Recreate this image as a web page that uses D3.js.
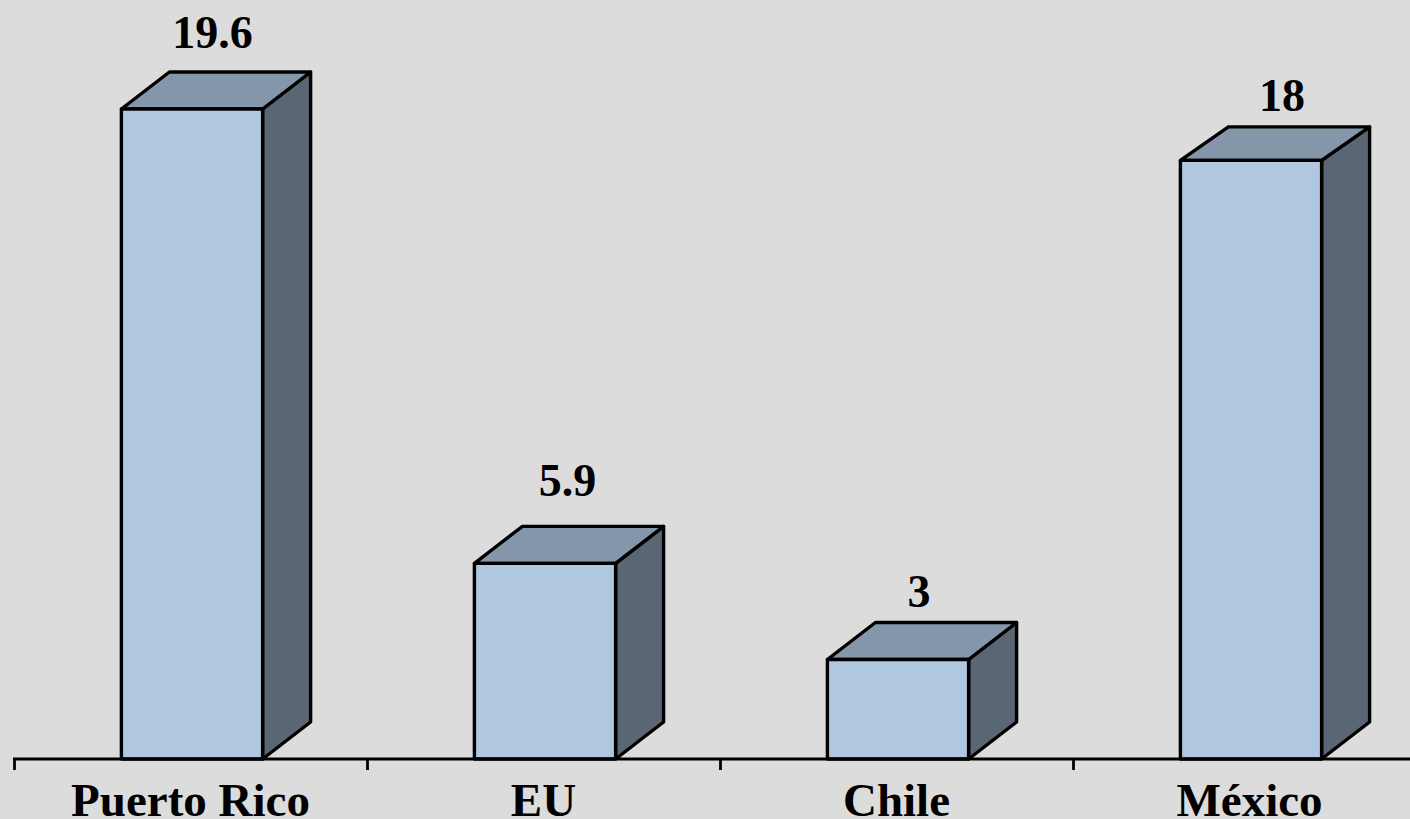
<!doctype html>
<html lang="es">
<head>
  <meta charset="utf-8">
  <script src="https://d3js.org/d3.v7.min.js"></script>
  <style>
    html, body { margin: 0; padding: 0; background: #dcdcdc; overflow: hidden; }
    svg { display: block; }
    text { font-family: "Liberation Serif", serif; font-weight: bold; fill: #000; }
  </style>
</head>
<body>
<div id="chart"></div>
<script>
var categories = ["Puerto Rico", "EU", "Chile", "México"];
var values = [19.6, 5.9, 3, 18.05];
var labels = ["19.6", "5.9", "3", "18"];

var width = 1410, height = 819,
    baseY = 759,
    depthX = 48, depthY = 37;

// hand placed value labels, offset from the bar's front top centre
var labelDx = [20.5, 22.5, 21, 31],
    labelDy = [61, 67, 53, 49];
// the last bar's lid is a bit shallower in the original
var lidDepth = [37, 37, 37, 33.5];

var rows = categories.map(function(c, i) {
  return {name: c, val: values[i], label: labels[i], dx: labelDx[i], dy: labelDy[i], lid: lidDepth[i]};
});

var svg = d3.select("#chart").append("svg")
    .attr("width", width)
    .attr("height", height);

var x = d3.scaleBand()
    .domain(categories)
    .range([15.5, 1427.5])
    .paddingInner(0.6)
    .paddingOuter(0.3);

var y = d3.scaleLinear()
    .domain([0, 19.6])
    .range([baseY, 109]);

var bars = svg.selectAll(".bar")
    .data(rows)
  .enter().append("g")
    .attr("class", "bar")
    .attr("stroke", "#000")
    .attr("stroke-width", 3.4)
    .attr("stroke-linejoin", "round");

// side face
bars.append("path")
    .attr("fill", "#5a6673")
    .attr("d", function(d) {
      var r = x(d.name) + x.bandwidth();
      return "M" + r + "," + y(d.val) + "L" + (r + depthX) + "," + (y(d.val) - d.lid) +
             "L" + (r + depthX) + "," + (baseY - depthY) + "L" + r + "," + baseY + "Z";
    });

// top face
bars.append("path")
    .attr("fill", "#8496a9")
    .attr("d", function(d) {
      var l = x(d.name), r = l + x.bandwidth();
      return "M" + l + "," + y(d.val) + "L" + (l + depthX) + "," + (y(d.val) - d.lid) +
             "L" + (r + depthX) + "," + (y(d.val) - d.lid) + "L" + r + "," + y(d.val) + "Z";
    });

// front face
bars.append("rect")
    .attr("fill", "#b0c7e0")
    .attr("x", function(d) { return x(d.name); })
    .attr("y", function(d) { return y(d.val); })
    .attr("width", x.bandwidth())
    .attr("height", function(d) { return baseY - y(d.val); });

// value labels
svg.selectAll(".val")
    .data(rows)
  .enter().append("text")
    .attr("class", "val")
    .attr("text-anchor", "middle")
    .attr("font-size", 46)
    .attr("x", function(d) { return x(d.name) + x.bandwidth() / 2 + d.dx; })
    .attr("y", function(d) { return y(d.val) - d.dy; })
    .text(function(d) { return d.label; });

// axis line + ticks
var ticks = d3.range(categories.length + 1).map(function(i) { return 14.5 + i * x.step(); });

svg.append("line")
    .attr("x1", 13).attr("x2", width)
    .attr("y1", baseY).attr("y2", baseY)
    .attr("stroke", "#000").attr("stroke-width", 3);

svg.selectAll(".tick")
    .data(ticks)
  .enter().append("line")
    .attr("class", "tick")
    .attr("x1", function(d) { return d; }).attr("x2", function(d) { return d; })
    .attr("y1", baseY).attr("y2", baseY + 11)
    .attr("stroke", "#000").attr("stroke-width", 2.8);

// category labels
svg.selectAll(".cat")
    .data(categories)
  .enter().append("text")
    .attr("class", "cat")
    .attr("text-anchor", "middle")
    .attr("font-size", 47)
    .attr("x", function(d) { return x(d) + x.bandwidth() / 2 - 1.5; })
    .attr("y", 816)
    .text(function(d) { return d; });
</script>
</body>
</html>
